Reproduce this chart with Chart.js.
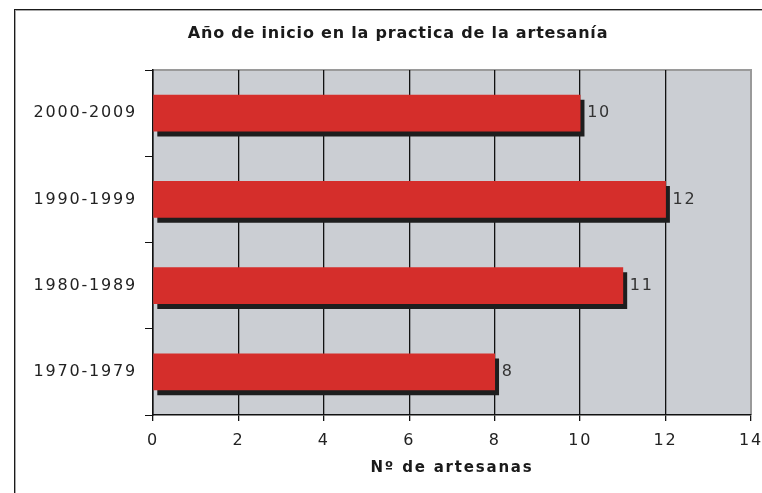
<!DOCTYPE html>
<html>
<head>
<meta charset="utf-8">
<script src="https://cdn.jsdelivr.net/npm/chart.js@4"></script>
<style>
  body { margin: 0; background: #fff; }
  #frame { position: absolute; left: 14px; top: 9px; width: 760px; height: 500px;
           border-top: 1px solid #1a1a1a; border-left: 1px solid #1a1a1a;
           box-shadow: inset 1px 1px 0 #a8a8a8; }
  #wrap { position: absolute; left: 0; top: 0; width: 762px; height: 493px; }
</style>
</head>
<body>
<div id="frame"></div>
<div id="wrap"><canvas id="chart"></canvas></div>
<script>
const titulo = 'Año de inicio en la practica de la artesanía';
const periodos = ['2000-2009', '1990-1999', '1980-1989', '1970-1979'];
const artesanas = [10, 12, 11, 8];
const xTicks = [0, 2, 4, 6, 8, 10, 12, 14];

const FONT = '"DejaVu Sans", Verdana, sans-serif';

// fondo gris del área de trazado, sombras, etiquetas y título
const plotBg = {
  id: 'plotBg',
  beforeDraw(chart) {
    chart.ctx.letterSpacing = '1.8px';
    const { ctx, chartArea: a } = chart;
    ctx.save();
    ctx.fillStyle = '#cbced3';
    ctx.fillRect(a.left, a.top, a.right - a.left, a.bottom - a.top);
    ctx.strokeStyle = '#9a9a9a';
    ctx.lineWidth = 2;
    ctx.beginPath();
    ctx.moveTo(a.left, a.top);
    ctx.lineTo(a.right, a.top);
    ctx.lineTo(a.right, a.bottom);
    ctx.stroke();
    ctx.restore();
  },
  beforeDatasetDraw(chart) {
    const ctx = chart.ctx;
    ctx.save();
    ctx.shadowColor = '#1e1e1e';
    ctx.shadowBlur = 0;
    ctx.shadowOffsetX = 4;
    ctx.shadowOffsetY = 5;
  },
  afterDatasetDraw(chart) {
    chart.ctx.restore();
  },
  afterDatasetsDraw(chart) {
    const { ctx } = chart;
    const meta = chart.getDatasetMeta(0);
    ctx.save();
    ctx.font = '16px ' + FONT;
    ctx.fillStyle = '#333';
    ctx.textBaseline = 'middle';
    ctx.textAlign = 'left';
    meta.data.forEach((bar, i) => {
      ctx.fillText(String(artesanas[i]), bar.x + 7, bar.y);
    });
    ctx.restore();
  },
  afterDraw(chart) {
    const { ctx } = chart;
    ctx.save();
    ctx.letterSpacing = '0.8px';
    ctx.font = 'bold 16px ' + FONT;
    ctx.fillStyle = '#1a1a1a';
    ctx.textBaseline = 'middle';
    ctx.textAlign = 'center';
    ctx.fillText(titulo, 398, 34);
    ctx.restore();
  }
};

new Chart(document.getElementById('chart'), {
  type: 'bar',
  data: {
    labels: periodos,
    datasets: [{
      data: artesanas,
      backgroundColor: '#d52e2b',
      borderWidth: 0,
      barThickness: 36
    }]
  },
  options: {
    indexAxis: 'y',
    responsive: true,
    maintainAspectRatio: false,
    animation: false,
    layout: { padding: { left: 0, right: 11, top: 70, bottom: 0 } },
    plugins: {
      legend: { display: false },
      tooltip: { enabled: false },
      title: { display: false }
    },
    scales: {
      x: {
        min: 0,
        max: 14,
        afterBuildTicks(scale) { scale.ticks = xTicks.map(v => ({ value: v })); },
        afterFit(scale) {
          scale.height = 78;
          scale.paddingLeft = 0;
          scale.paddingRight = 0;
        },
        border: { display: true, color: '#111', width: 1.5 },
        grid: {
          color: ctx => (ctx.tick && ctx.tick.value === 14) ? 'rgba(0,0,0,0)' : '#111',
          tickColor: '#111',
          tickLength: 6,
          lineWidth: 1.3
        },
        ticks: {
          color: '#222',
          font: { family: FONT, size: 16 },
          padding: 10
        },
        title: {
          display: true,
          text: 'Nº de artesanas',
          color: '#1a1a1a',
          font: { family: FONT, size: 15, weight: 'bold' },
          padding: { top: 0, bottom: 16 }
        }
      },
      y: {
        afterFit(scale) {
          scale.width = 153;
          scale.paddingTop = 0;
          scale.paddingBottom = 0;
        },
        border: { display: true, color: '#111', width: 1.5 },
        grid: {
          offset: true,
          drawOnChartArea: false,
          drawTicks: true,
          tickLength: 8,
          color: '#111'
        },
        ticks: {
          color: '#222',
          font: { family: FONT, size: 16 },
          padding: 8
        }
      }
    }
  },
  plugins: [plotBg]
});
</script>
</body>
</html>
